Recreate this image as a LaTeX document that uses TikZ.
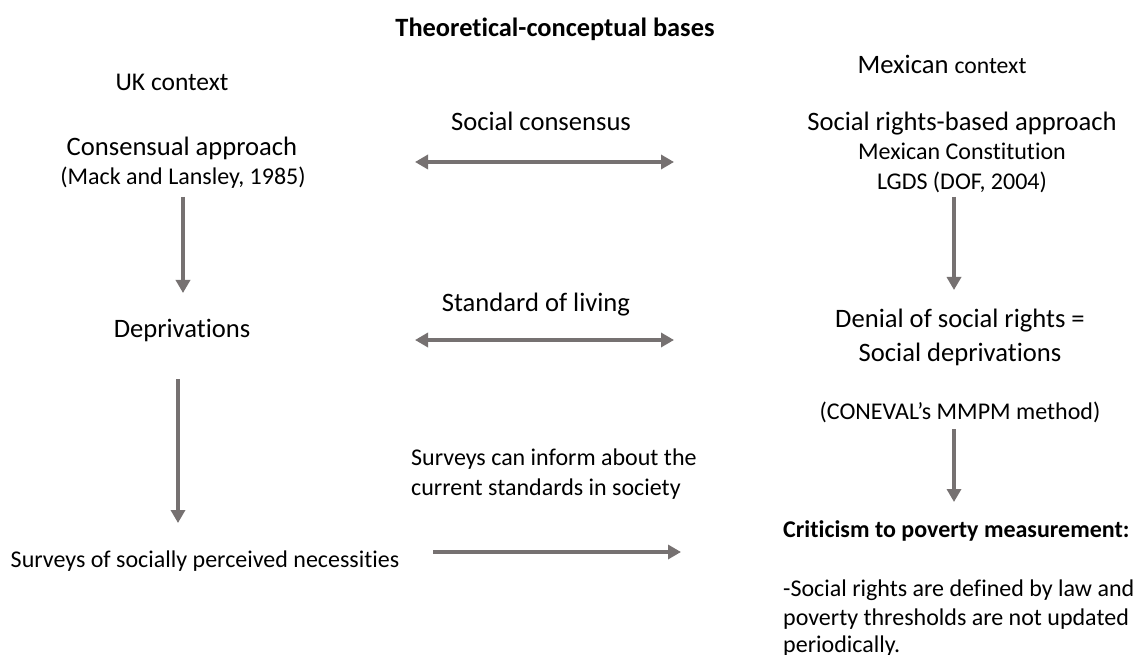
\documentclass[tikz,border=0pt]{standalone}
\usepackage{fontspec}
\setmainfont{Carlito}[Ligatures=NoCommon]
\usetikzlibrary{arrows.meta}
\definecolor{arrgray}{HTML}{767171}
\tikzset{
  big/.style={font=\fontsize{26.6}{32}\selectfont, inner sep=0pt, anchor=base},
  small/.style={font=\fontsize{24}{29}\selectfont, inner sep=0pt, anchor=base},
  smallleft/.style={small, anchor=base west},
  arr/.style={draw=arrgray, line width=4pt, -{Triangle[length=13pt,width=14pt]}},
  darr/.style={draw=arrgray, line width=4pt, {Triangle[length=13pt,width=14pt]}-{Triangle[length=13pt,width=14pt]}}
}
\begin{document}
\begin{tikzpicture}[x=1pt,y=-1pt]
\useasboundingbox[fill=white] (0,0) rectangle (1141,655);
% title
\node[big, font=\fontsize{26.4}{31}\selectfont\bfseries] (title) at (555,37) {Theoretical-conceptual bases};
% left column
\node[small, font=\fontsize{25.5}{30}\selectfont] (uk) at (172,91) {UK context};
\node[big] (cons) at (182,156) {Consensual approach};
\node[small] (mack) at (183,185) {(Mack and Lansley, 1985)};
\node[big] (depr) at (182,337) {Deprivations};
\node[small] (surv) at (205,567) {Surveys of socially perceived necessities};
% middle
\node[big] (scons) at (541,131) {Social consensus};
\node[big] (stand) at (536,312) {Standard of living};
\node[smallleft] (inf1) at (411,465) {Surveys can inform about the};
\node[smallleft] (inf2) at (411,495) {current standards in society};
% right column
\node[big] (mex) at (942,74) {Mexican {\fontsize{23.7}{29}\selectfont context}};
\node[big] (srba) at (962,131) {Social rights-based approach};
\node[small] (const) at (962,160) {Mexican Constitution};
\node[small] (lgds) at (962,190) {LGDS (DOF, 2004)};
\node[big] (den1) at (960,327) {Denial of social rights =};
\node[big] (den2) at (960,361) {Social deprivations};
\node[small] (conev) at (960,419) {(CONEVAL’s MMPM method)};
\node[smallleft, font=\fontsize{24}{29}\selectfont\bfseries] (crit) at (783,537) {Criticism to poverty measurement:};
\node[smallleft] (c1) at (783,596) {-Social rights are defined by law and};
\node[smallleft] (c2) at (783,625) {poverty thresholds are not updated};
\node[smallleft] (c3) at (783,652) {periodically.};
% arrow end points
\coordinate (l1a) at (183,197); \coordinate (l1b) at (183,293);
\coordinate (l2a) at (178,379); \coordinate (l2b) at (178,523);
\coordinate (r1a) at (954,197); \coordinate (r1b) at (954,290);
\coordinate (r2a) at (954,429); \coordinate (r2b) at (954,502);
\coordinate (d1a) at (415,162); \coordinate (d1b) at (674,162);
\coordinate (d2a) at (415,340); \coordinate (d2b) at (674,340);
\coordinate (ba) at (433,552); \coordinate (bb) at (681,552);
\draw[arr] (l1a) -- (l1b);
\draw[arr] (l2a) -- (l2b);
\draw[arr] (r1a) -- (r1b);
\draw[arr] (r2a) -- (r2b);
\draw[darr] (d1a) -- (d1b);
\draw[darr] (d2a) -- (d2b);
\draw[arr] (ba) -- (bb);
\end{tikzpicture}
\end{document}
